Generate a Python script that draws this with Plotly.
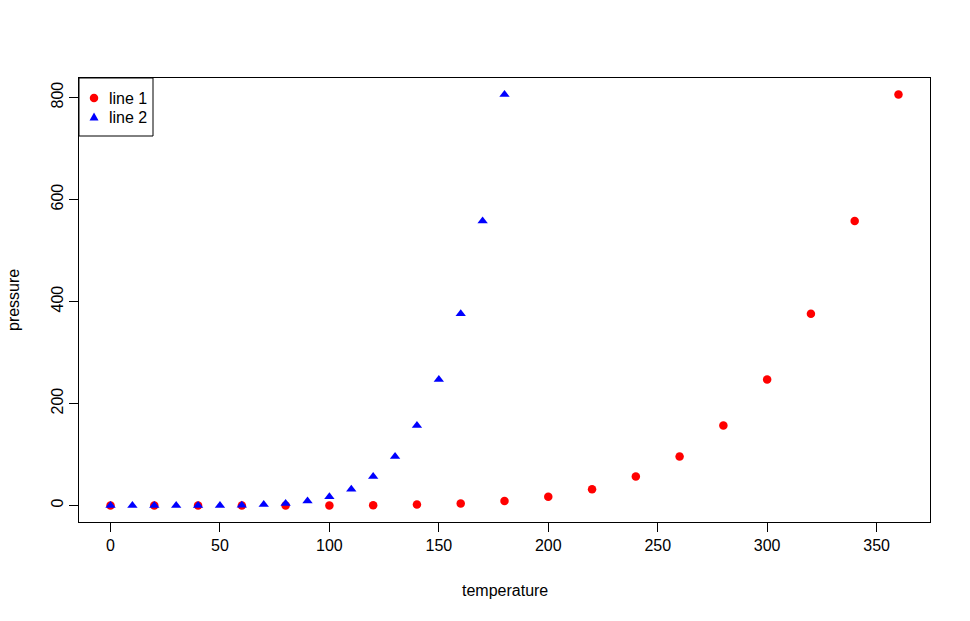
import plotly.graph_objects as go

temperature = [0, 20, 40, 60, 80, 100, 120, 140, 160, 180, 200, 220, 240, 260, 280, 300, 320, 340, 360]
temperature_half = [0, 10, 20, 30, 40, 50, 60, 70, 80, 90, 100, 110, 120, 130, 140, 150, 160, 170, 180]
pressure = [0.0002, 0.0012, 0.006, 0.03, 0.09, 0.27, 0.75, 1.85, 4.2, 8.8, 17.3, 32.1, 57, 96, 157, 247, 376, 558, 806]
x_ticks = [0, 50, 100, 150, 200, 250, 300, 350]
y_ticks = [0, 200, 400, 600, 800]
legend_labels = ["line 1", "line 2"]

FONT = "Liberation Sans, Arial, Helvetica, sans-serif"

fig = go.Figure()
fig.add_trace(go.Scatter(x=temperature, y=pressure, mode="markers", name=legend_labels[0],
                         marker=dict(symbol="circle", size=8.5, color="#ff0000", line=dict(width=0))))
fig.add_trace(go.Scatter(x=temperature_half, y=pressure, mode="markers", name=legend_labels[1],
                         marker=dict(symbol="triangle-up", size=9, color="#0000ff", line=dict(width=0))))

x0, x1 = -14.4, 374.4
y0, y1 = -32.24, 838.24

W, H = 970, 621
ML, MR, MT, MB = 79, 40, 78, 99
PW, PH = W - ML - MR, H - MT - MB


def px(dx):
    return dx / PW


def py(dy):
    return 1 - dy / PH


shapes = [
    # legend box
    dict(type="rect", xref="paper", yref="paper", x0=0, x1=px(74), y0=py(58), y1=1,
         line=dict(color="black", width=1), fillcolor="white", layer="above"),
    # legend circle
    dict(type="circle", xref="paper", yref="paper", xsizemode="pixel", ysizemode="pixel",
         xanchor=px(15), yanchor=py(20), x0=-4.25, x1=4.25, y0=-4.25, y1=4.25,
         fillcolor="#ff0000", line=dict(width=0), layer="above"),
    # legend triangle
    dict(type="path", xref="paper", yref="paper", xsizemode="pixel", ysizemode="pixel",
         xanchor=px(15), yanchor=py(39), path="M -4.5,-3.5 L 4.5,-3.5 L 0,4.5 Z",
         fillcolor="#0000ff", line=dict(width=0), layer="above"),
]

annotations = [
    dict(text="temperature", xref="paper", yref="paper", x=0.5, y=0, yshift=-68,
         xanchor="center", yanchor="middle", showarrow=False, font=dict(size=16)),
    dict(text="pressure", xref="paper", yref="paper", x=0, y=0.5, xshift=-66,
         xanchor="center", yanchor="middle", showarrow=False, textangle=-90, font=dict(size=16)),
    dict(text=legend_labels[0], xref="paper", yref="paper", x=px(28), y=py(20),
         xanchor="left", yanchor="middle", showarrow=False, font=dict(size=16)),
    dict(text=legend_labels[1], xref="paper", yref="paper", x=px(28), y=py(39),
         xanchor="left", yanchor="middle", showarrow=False, font=dict(size=16)),
]

fig.update_layout(
    width=W, height=H,
    paper_bgcolor="white", plot_bgcolor="white",
    margin=dict(l=ML, r=MR, t=MT, b=MB),
    font=dict(family=FONT, size=16, color="black"),
    showlegend=False,
    xaxis=dict(range=[x0, x1], tickvals=x_ticks, ticks="outside", ticklen=9, tickcolor="black",
               showline=True, mirror=True, linecolor="black", linewidth=1, showgrid=False,
               zeroline=False, tickfont=dict(size=16)),
    yaxis=dict(range=[y0, y1], tickvals=y_ticks, ticks="outside", ticklen=9, tickcolor="black",
               showline=True, mirror=True, linecolor="black", linewidth=1, showgrid=False,
               zeroline=False, tickangle=-90, tickfont=dict(size=16)),
    shapes=shapes,
    annotations=annotations,
)

fig.write_html("out.html")
